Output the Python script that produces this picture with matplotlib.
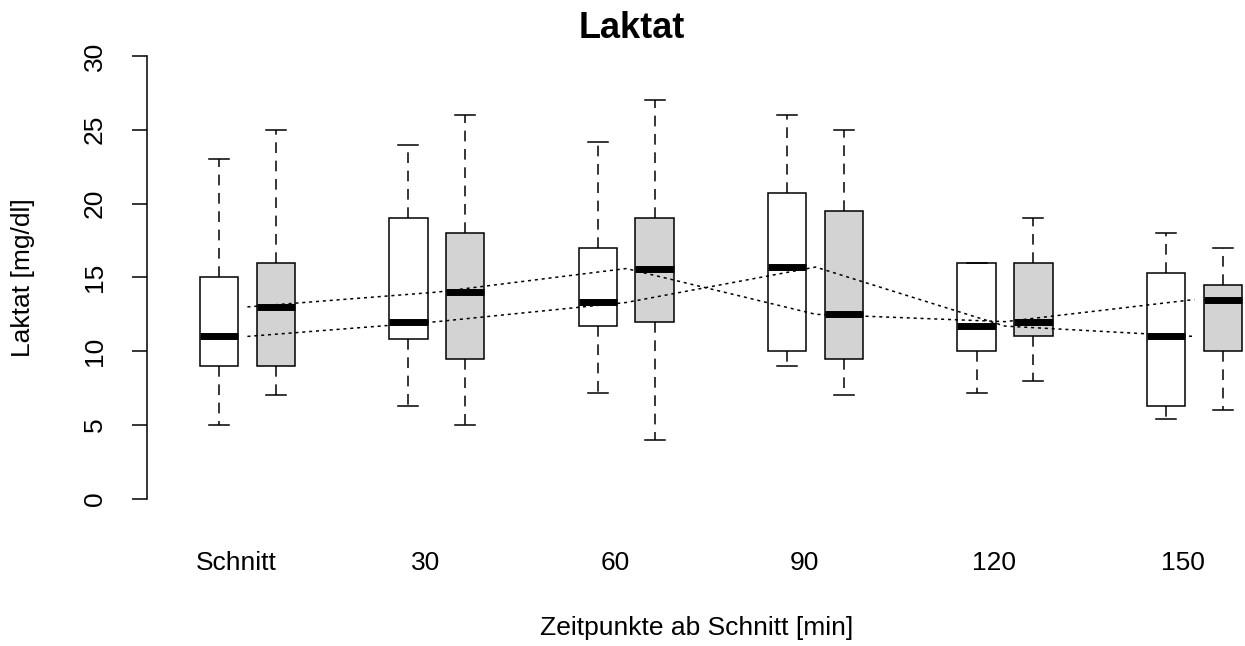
import numpy as np
import matplotlib
matplotlib.use("Agg")
import matplotlib.pyplot as plt

plt.rcParams['font.family'] = ['Liberation Sans', 'DejaVu Sans']

# Zeitpunkte
labels = ["Schnitt", "30", "60", "90", "120", "150"]

# Gruppe 1 (weiss)
white_med = [11.0, 12.0, 13.3, 15.7, 11.7, 11.0]
white_q1 = [9.0, 10.8, 11.7, 10.0, 10.0, 6.3]
white_q3 = [15.0, 19.0, 17.0, 20.7, 16.0, 15.3]
white_lo = [5.0, 6.3, 7.2, 9.0, 7.2, 5.4]
white_hi = [23.0, 24.0, 24.2, 26.0, 16.0, 18.0]

# Gruppe 2 (grau)
grey_med = [13.0, 14.0, 15.6, 12.5, 12.0, 13.5]
grey_q1 = [9.0, 9.5, 12.0, 9.5, 11.0, 10.0]
grey_q3 = [16.0, 18.0, 19.0, 19.5, 16.0, 14.5]
grey_lo = [7.0, 5.0, 4.0, 7.0, 8.0, 6.0]
grey_hi = [25.0, 26.0, 27.0, 25.0, 19.0, 17.0]


def stats(med, q1, q3, lo, hi):
    return [dict(med=m, q1=a, q3=b, whislo=l, whishi=u, fliers=[])
            for m, a, b, l, u in zip(med, q1, q3, lo, hi)]


groups = np.arange(len(labels))
offset = 0.15
box_w = 0.203
cap_w = 0.106

fig = plt.figure(figsize=(12.45, 6.46), dpi=100)
ax = fig.add_axes([0.1178, 0.2005, 1 - 0.1178, 0.7402])

lw = 1.1
dash = (0, (7, 5))
for med, q1, q3, lo, hi, pos, fc in [
        (white_med, white_q1, white_q3, white_lo, white_hi, groups - offset, "white"),
        (grey_med, grey_q1, grey_q3, grey_lo, grey_hi, groups + offset, "#d3d3d3")]:
    ax.bxp(stats(med, q1, q3, lo, hi), positions=pos, widths=box_w,
           capwidths=cap_w, patch_artist=True, showfliers=False,
           boxprops=dict(facecolor=fc, edgecolor="black", linewidth=lw),
           whiskerprops=dict(color="black", linewidth=lw, linestyle=dash),
           capprops=dict(color="black", linewidth=lw),
           medianprops=dict(color="black", linewidth=5, solid_capstyle="butt"),
           manage_ticks=False)

# Verlauf der Mediane
for med in (white_med, grey_med):
    ax.plot(groups, med, color="black", linewidth=1.1,
            linestyle=(0, (2, 2.5)), zorder=5)

ax.set_xlim(-0.532, 5.267)
ax.set_ylim(-1.2, 31.2)

for s in ("top", "right", "bottom"):
    ax.spines[s].set_visible(False)
ax.spines["left"].set_bounds(0, 30)
ax.spines["left"].set_linewidth(lw)

ax.set_yticks(np.arange(0, 31, 5))
ax.tick_params(axis="y", direction="out", length=10.8, width=lw, pad=18,
               labelsize=19)
for t in ax.get_yticklabels():
    t.set_rotation(90)
    t.set_va("center")

ax.set_xticks(groups - 0.06, labels)
ax.tick_params(axis="x", length=0, pad=25, labelsize=19)

fig.text(632 / 1245, 1 - 38.3 / 646, "Laktat", ha="center", va="baseline",
         fontsize=26, fontweight="bold")
fig.text(696.7 / 1245, 1 - 635 / 646, "Zeitpunkte ab Schnitt [min]",
         ha="center", va="baseline", fontsize=19)
fig.text(23 / 1245, 1 - 278 / 646, "Laktat [mg/dl]", ha="center", va="center",
         rotation=90, fontsize=19)

fig.savefig("out.png", dpi=100)
